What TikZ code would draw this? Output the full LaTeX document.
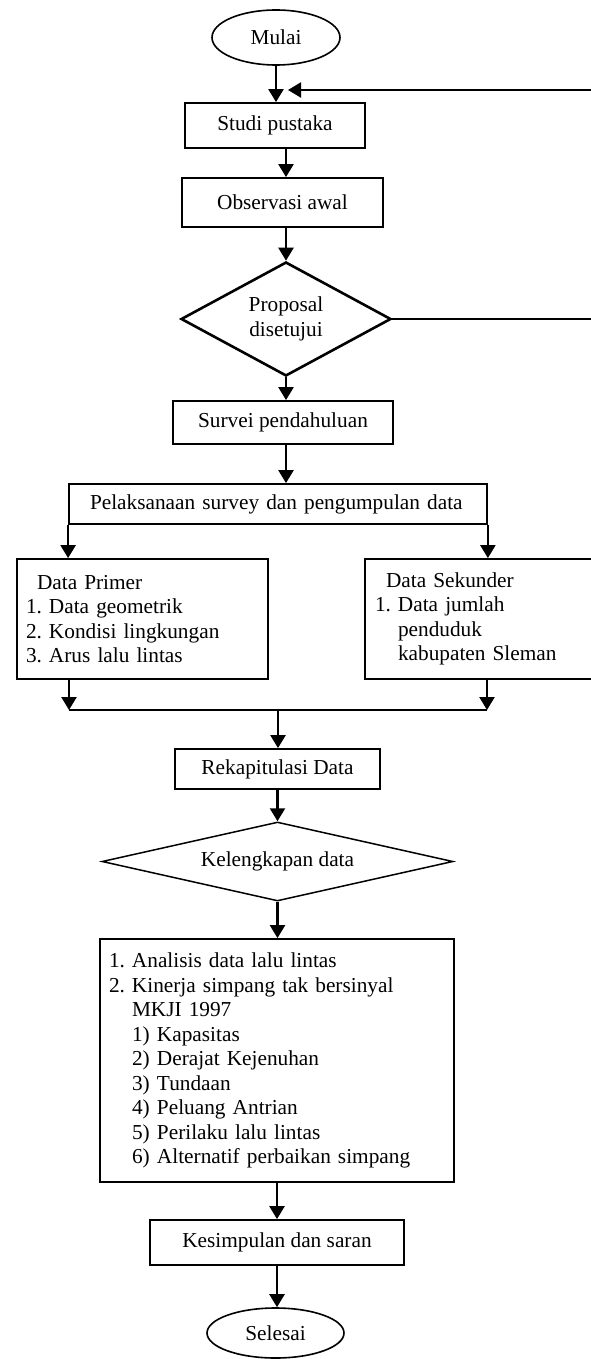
\documentclass[tikz,border=0pt]{standalone}
\usepackage{fontspec}
\setmainfont{Liberation Serif}
\usetikzlibrary{shapes.geometric,arrows.meta}
\begin{document}
\begin{tikzpicture}[x=1pt,y=-1pt,
  every node/.style={font=\fontsize{21.3}{24.5}\selectfont, inner sep=0pt},
  box/.style={draw, line width=1.8pt, rectangle},
  term/.style={draw, line width=1.6pt, ellipse},
  dec/.style={draw, line width=2.6pt, diamond},
  decthin/.style={draw, line width=1.5pt, diamond},
  arr/.style={line width=2.4pt, -{Triangle[width=15pt,length=13pt]}},
  ln/.style={line width=2.2pt}]
\useasboundingbox (0,0) rectangle (590,1359);

% nodes
\node[term, minimum width=128pt, minimum height=55pt] (mulai) at (276,37.5) {Mulai};
\node[box, minimum width=180pt, minimum height=45pt] (studi) at (275,125.5) {Studi pustaka};
\node[box, minimum width=201pt, minimum height=49pt] (obs) at (282.5,202.5) {Observasi awal};
\node[dec, shape aspect=1.84, minimum width=210pt, minimum height=114pt, align=center] (prop) at (286,319) {Proposal\\disetujui};
\node[box, minimum width=220pt, minimum height=43pt] (survei) at (283,422.5) {Survei pendahuluan\hspace{10pt}};
\node[box, minimum height=40pt, text width=376pt, inner xsep=21pt, align=left] (pelak) at (278,504) {Pelaksanaan survey dan pengumpulan data};
\node[box, minimum height=120pt, text width=233pt, inner xsep=9pt, align=left] (primer) at (142.5,619)
  {\hspace*{11pt}Data Primer\\
   \makebox[23pt][l]{1.}Data geometrik\\
   \makebox[23pt][l]{2.}Kondisi lingkungan\\
   \makebox[23pt][l]{3.}Arus lalu lintas};
\node[box, minimum height=120pt, text width=210pt, inner xsep=10pt, align=left] (sekunder) at (480,619)
  {\hspace*{11pt}Data Sekunder\\
   \makebox[23pt][l]{1.}Data jumlah\\
   \hspace*{23pt}penduduk\\
   \hspace*{23pt}kabupaten Sleman};
\node[box, minimum width=205pt, minimum height=40pt] (rekap) at (277.5,769) {Rekapitulasi Data\hspace{10pt}};
\node[decthin, shape aspect=4.4, minimum width=351pt, minimum height=79pt] (kelen) at (277.5,861.5) {Kelengkapan data};
\node[box, minimum height=243pt, text width=336pt, inner xsep=9pt, align=left] (analisis) at (277,1060.5)
  {\makebox[23pt][l]{1.}Analisis data lalu lintas\\
   \makebox[23pt][l]{2.}Kinerja simpang tak bersinyal\\
   \hspace*{23pt}MKJI 1997\\
   \hspace*{23pt}\makebox[25pt][l]{1)}Kapasitas\\
   \hspace*{23pt}\makebox[25pt][l]{2)}Derajat Kejenuhan\\
   \hspace*{23pt}\makebox[25pt][l]{3)}Tundaan\\
   \hspace*{23pt}\makebox[25pt][l]{4)}Peluang Antrian\\
   \hspace*{23pt}\makebox[25pt][l]{5)}Perilaku lalu lintas\\
   \hspace*{23pt}\makebox[25pt][l]{6)}Alternatif perbaikan simpang};
\node[box, minimum width=254pt, minimum height=45pt] (kesim) at (277,1242.5) {Kesimpulan dan saran\hspace{10pt}};
\node[term, minimum width=137pt, minimum height=50pt] (selesai) at (275.5,1333) {Selesai};

% helper coordinates
\coordinate (jl) at (69,710);
\coordinate (jr) at (487,710);
\coordinate (jm) at (278,710);
\coordinate (fbr) at (593,90);
\coordinate (fb) at (288,90);

% connectors
\draw[arr] (mulai.south) -- (mulai.south |- studi.north);
\draw[arr] (studi.south -| prop.north) -- (obs.north -| prop.north);
\draw[arr] (obs.south -| prop.north) -- (prop.north);
\draw[arr] (prop.south) -- (prop.south |- survei.north);
\draw[arr] (survei.south -| prop.south) -- (pelak.north -| prop.south);
\draw[arr] (pelak.south west) -- (pelak.south west |- primer.north);
\draw[arr] (pelak.south east) -- (pelak.south east |- sekunder.north);
\draw[arr] (primer.south -| jl) -- (jl);
\draw[arr] (sekunder.south -| jr) -- (jr);
\draw[ln] (jl) -- (jr);
\draw[arr] (jm) -- (jm |- rekap.north);
\draw[arr] (rekap.south) -- (kelen.north);
\draw[arr] (kelen.south) -- (kelen.south |- analisis.north);
\draw[arr] (analisis.south) -- (analisis.south |- kesim.north);
\draw[arr] (kesim.south) -- (kesim.south |- selesai.north);
\draw[arr, line width=2pt] (prop.east) -| (fbr) -- (fb);
\end{tikzpicture}
\end{document}
